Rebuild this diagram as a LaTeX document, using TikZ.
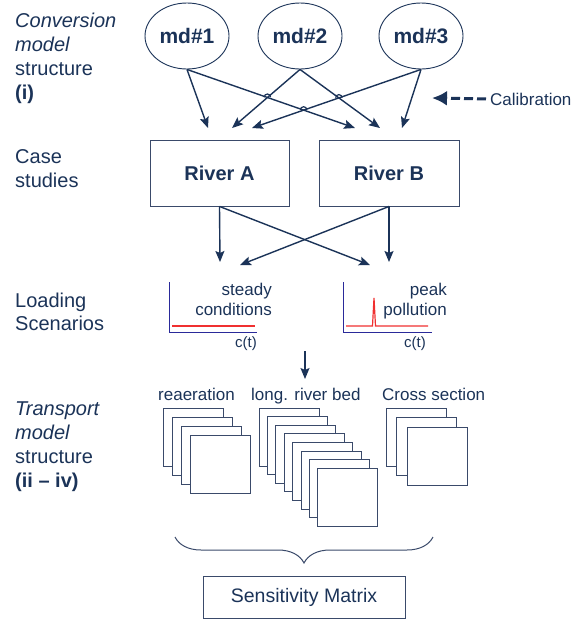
\documentclass[tikz,border=0pt]{standalone}
\usepackage{fontspec}
\setmainfont{Liberation Sans}
\usetikzlibrary{arrows.meta,decorations.pathreplacing,shapes.geometric}
\definecolor{navy}{HTML}{1B3358}
\definecolor{frame}{HTML}{3A4A6A}
\definecolor{axisblue}{HTML}{2A2A9A}
\definecolor{redline}{HTML}{F03030}
\begin{document}
\begin{tikzpicture}[x=1pt,y=-1pt,
  every node/.style={text=navy, inner sep=0pt},
  lab/.style={anchor=base west, font=\fontsize{20}{24}\selectfont},
  ilab/.style={lab, font=\itshape\fontsize{20}{24}\selectfont},
  blab/.style={lab, font=\bfseries\fontsize{20}{24}\selectfont},
  mdell/.style={ellipse, draw=navy, line width=0.9pt, minimum width=84pt, minimum height=66pt, font=\bfseries\fontsize{21}{24}\selectfont},
  rbox/.style={rectangle, draw=frame, line width=0.9pt, minimum height=66pt, font=\bfseries\fontsize{20}{24}\selectfont},
  sbox/.style={rectangle, draw=frame, line width=0.9pt, minimum width=202pt, minimum height=42pt, font=\fontsize{19.5}{22}\selectfont},
  small/.style={font=\fontsize{17}{20}\selectfont},
  tiny/.style={font=\fontsize{15}{18}\selectfont},
  arr/.style={draw=navy, line width=1.4pt, -{Stealth[length=11pt,width=9pt,inset=2pt]}},
  sq/.style={draw=frame, fill=white, line width=1pt},
  hop/.style={draw=navy, line width=1.2pt}]
\useasboundingbox (0,0) rectangle (581,619);

% left labels
\node[ilab] (t1) at (15,27) {Conversion};
\node[ilab] (t2) at (15,51) {model};
\node[lab]  (t3) at (15,75) {structure};
\node[blab] (t4) at (15,99) {(i)};
\node[lab] (c1) at (15,163) {Case};
\node[lab] (c2) at (15,187) {studies};
\node[lab] (l1) at (15,307) {Loading};
\node[lab] (l2) at (15,330) {Scenarios};
\node[ilab] (r1) at (15,415) {Transport};
\node[ilab] (r2) at (15,439) {model};
\node[lab]  (r3) at (15,463) {structure};
\node[blab] (r4) at (15,487) {(ii – iv)};

% conversion models
\node[mdell] (md1) at (187,36) {md\#1};
\node[mdell] (md2) at (300,36) {md\#2};
\node[mdell] (md3) at (421,36) {md\#3};

% rivers
\node[rbox, minimum width=139pt] (rA) at (219.5,173) {River A};
\node[rbox, minimum width=140pt] (rB) at (389,173) {River B};

\coordinate (a1) at (208,128);
\coordinate (a2) at (232,128);
\coordinate (a3) at (252,128);
\coordinate (b1) at (355,128);
\coordinate (b2) at (380,128);
\coordinate (b3) at (402,128);
\draw[arr] (md1.south) -- (a1);
\draw[arr] (md1.south) -- (b1);
\draw[arr] (md2.south) -- (a2);
\draw[arr] (md2.south) -- (b2);
\draw[arr] (md3.south) -- (a3);
\draw[arr] (md3.south) -- (b3);
% hops at crossings
\draw[hop] (264.2,97.2) arc (180:360:3.2);
\draw[hop] (335.7,97.8) arc (180:360:3.2);
\draw[hop] (300.4,109.9) arc (180:360:3.2);

% calibration
\node[small, anchor=base west] (cal) at (490,105) {Calibration};
\coordinate (calT) at (432,98);
\draw[navy, line width=3pt, dash pattern=on 9pt off 4pt, -{Latex[length=15pt,width=15pt]}] ([xshift=-4pt]cal.west) -- (calT);

% river -> scenarios
\coordinate (sA) at (220,262);
\coordinate (sB) at (240,265);
\coordinate (pA) at (370,265);
\coordinate (pB) at (389,262);
\draw[arr] (rA.south) -- (sA);
\draw[arr] (rA.south) -- (pA);
\draw[arr] (rB.south) -- (pB);
\draw[arr] (rB.south) -- (sB);

% loading plots
\draw[axisblue, line width=0.8pt] (169,282) -- (169,332) -- (257,332);
\draw[redline, line width=1.2pt] (172,326) -- (255,326);
\node[small, anchor=base east] (st1) at (272,295) {steady};
\node[small, anchor=base east] (st2) at (272,315) {conditions};
\node[tiny, anchor=base east] (ct1) at (257,347) {c(t)};
\draw[axisblue, line width=0.8pt] (343,282) -- (343,332) -- (432,332);
\draw[redline, line width=1.2pt] (346,326) -- (372.5,326) -- (374,298) -- (375.5,326) -- (428,326);
\node[small, anchor=base east] (pk1) at (447,295) {peak};
\node[small, anchor=base east] (pk2) at (447,315) {pollution};
\node[tiny, anchor=base east] (ct2) at (426,347) {c(t)};

\coordinate (d1) at (305,351);
\coordinate (d2) at (305,379);
\draw[arr] (d1) -- (d2);

% transport
\node[small, anchor=base west] (tr1) at (158,400) {reaeration};
\node[small, anchor=base west] (tr2) at (251,400) {long. river bed};
\node[small, anchor=base west] (tr3) at (382,400) {Cross section};
\foreach \i in {0,...,3} \draw[sq] ({163+9.3*\i},{408+9.3*\i}) rectangle ++(60,58);
\foreach \i in {0,...,7} \draw[sq] ({259+8.4*\i},{408+8.6*\i}) rectangle ++(60,58);
\foreach \i in {0,...,2} \draw[sq] ({386+10.5*\i},{408+9.5*\i}) rectangle ++(60,58);

% brace and sensitivity matrix
\draw[frame, line width=1pt, decorate, decoration={brace, amplitude=26pt}] (433,537) -- (175,537);
\node[sbox] (sm) at (304,597) {Sensitivity Matrix};
\end{tikzpicture}
\end{document}
